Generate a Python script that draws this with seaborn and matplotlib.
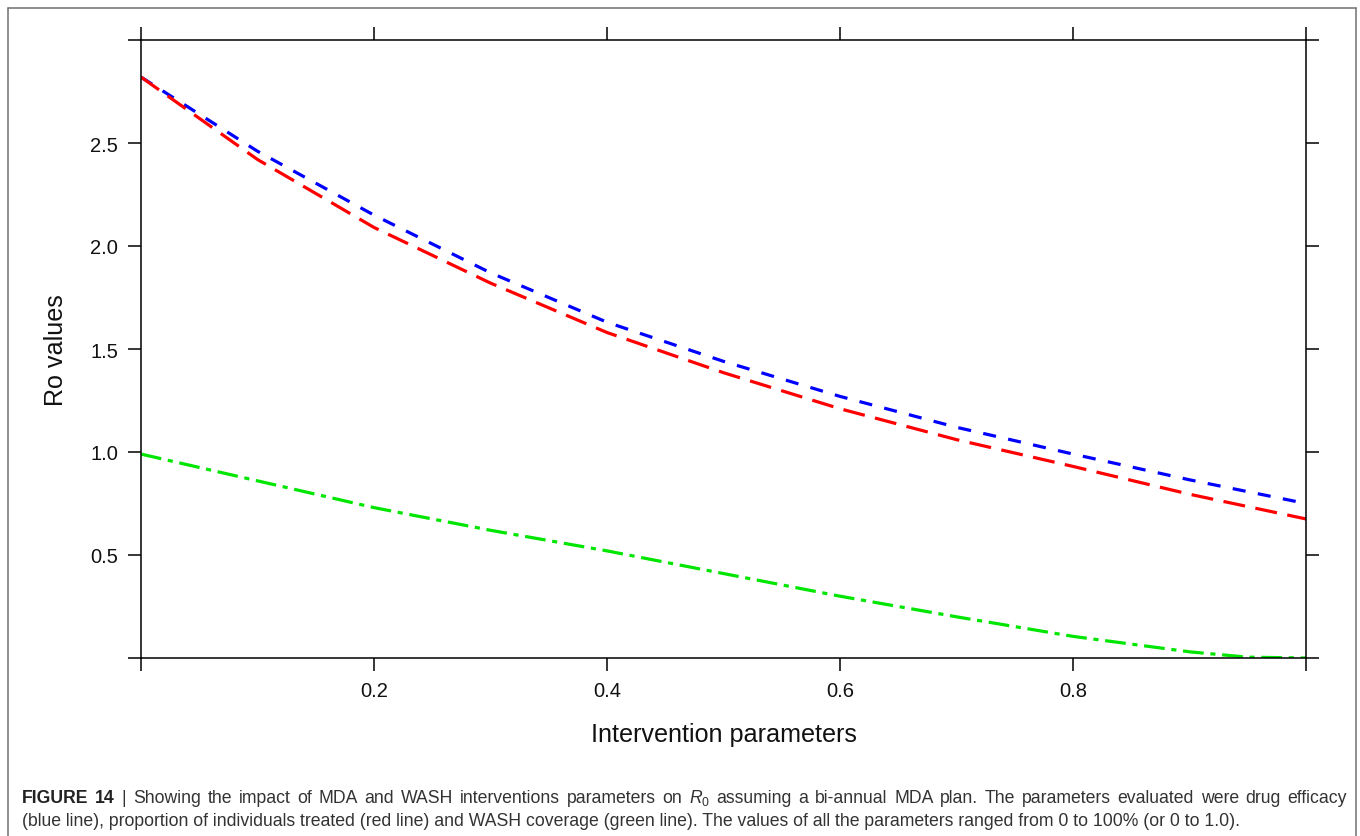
import matplotlib
matplotlib.use("Agg")
import matplotlib.pyplot as plt
import seaborn as sns
import pandas as pd
from matplotlib.lines import Line2D

# ---- data ----
x_vals = [0.0, 0.1, 0.2, 0.3, 0.4, 0.5, 0.6, 0.7, 0.8, 0.9, 1.0]
efficacy_r0 = [2.82, 2.46, 2.15, 1.87, 1.63, 1.44, 1.27, 1.12, 0.99, 0.865, 0.75]
treated_r0 = [2.82, 2.42, 2.09, 1.82, 1.58, 1.385, 1.21, 1.06, 0.93, 0.795, 0.675]
wash_x = [0.0, 0.1, 0.2, 0.3, 0.4, 0.5, 0.6, 0.7, 0.8, 0.9, 0.95, 1.0]
wash_r0 = [0.99, 0.86, 0.73, 0.62, 0.52, 0.41, 0.30, 0.20, 0.105, 0.03, 0.004, 0.0]

x_ticks = [0.0, 0.2, 0.4, 0.6, 0.8, 1.0]
x_ticklabels = ["", "0.2", "0.4", "0.6", "0.8", ""]
y_ticks = [0.0, 0.5, 1.0, 1.5, 2.0, 2.5, 3.0]
y_ticklabels = ["", "0.5", "1.0", "1.5", "2.0", "2.5", ""]

series_names = ["efficacy", "treated", "wash"]
palette = {"efficacy": "#0000FF", "treated": "#FF0000", "wash": "#00E600"}
dashes = {"efficacy": (4.1, 3.9), "treated": (6.9, 3.3), "wash": (6.5, 2.1, 1.6, 2.1)}

caption_line1 = ("FIGURE 14 | Showing the impact of MDA and WASH interventions parameters on "
                 "$R_0$ assuming a bi-annual MDA plan. The parameters evaluated were drug efficacy")
caption_line2 = ("(blue line), proportion of individuals treated (red line) and WASH coverage "
                 "(green line). The values of all the parameters ranged from 0 to 100% (or 0 to 1.0).")

df = pd.concat([
    pd.DataFrame({"x": x_vals, "r0": efficacy_r0, "series": "efficacy"}),
    pd.DataFrame({"x": x_vals, "r0": treated_r0, "series": "treated"}),
    pd.DataFrame({"x": wash_x, "r0": wash_r0, "series": "wash"}),
], ignore_index=True)

sns.set_style("white")
plt.rcParams["font.family"] = ["Liberation Sans", "DejaVu Sans"]
plt.rcParams["mathtext.fontset"] = "custom"
plt.rcParams["mathtext.rm"] = "Liberation Sans"
plt.rcParams["mathtext.it"] = "Liberation Sans:italic"
plt.rcParams["mathtext.bf"] = "Liberation Sans:bold"

W, H = 1360, 837
fig = plt.figure(figsize=(W / 100, H / 100), dpi=100)
fig.patch.set_facecolor("white")
ax = fig.add_axes([141 / W, 1 - 659 / H, (1306 - 141) / W, (659 - 41) / H])

sns.lineplot(data=df, x="x", y="r0", hue="series", style="series",
             hue_order=series_names, style_order=series_names,
             palette=palette, dashes=dashes, linewidth=2.3,
             estimator=None, sort=False, legend=False, ax=ax)

ax.set_xlim(0, 1)
ax.set_ylim(0, 3)
ax.set_xticks(x_ticks)
ax.set_xticklabels(x_ticklabels)
ax.set_yticks(y_ticks)
ax.set_yticklabels(y_ticklabels)
ax.tick_params(axis="both", direction="out", length=9.4, width=1.1,
               colors="black", labelcolor="#111111", labelsize=14.5, pad=7,
               top=True, right=True, bottom=True, left=True,
               labeltop=False, labelright=False)
for sp in ax.spines.values():
    sp.set_visible(True)
    sp.set_linewidth(1.1)
    sp.set_color("black")

ax.set_xlabel("Intervention parameters", fontsize=18.1, color="#111111")
ax.set_ylabel("Ro values", fontsize=18.1, color="#111111")
ax.xaxis.set_label_coords(0.5, -0.103)
ax.yaxis.set_label_coords(-0.0627, 0.5)

# ---- frame around figure ----
fc = "#707070"
fig.add_artist(Line2D([8 / W, 8 / W], [0, 1 - 8.5 / H], transform=fig.transFigure, color=fc, lw=1.1))
fig.add_artist(Line2D([8 / W, 1355.5 / W], [1 - 8.5 / H, 1 - 8.5 / H], transform=fig.transFigure, color=fc, lw=1.1))
fig.add_artist(Line2D([1355.5 / W, 1355.5 / W], [0, 1 - 8.5 / H], transform=fig.transFigure, color=fc, lw=1.1))

# ---- caption ----
cap_color = "#333333"
cap_size = 12.7
fig.canvas.draw()
renderer = fig.canvas.get_renderer()
x0 = 22 / W
x_right = 1347 / W
y1 = 1 - 803 / H
y2 = 1 - 826 / H

# line 1: justified, first two words bold
words = caption_line1.split(" ")
texts = []
for i, w in enumerate(words):
    bold = i < 2
    t = fig.text(0, y1, w, fontsize=cap_size, fontweight="bold" if bold else "normal",
                 color="#222222" if bold else cap_color, va="baseline", ha="left")
    texts.append(t)
widths = [t.get_window_extent(renderer).width / W for t in texts]
gap = (x_right - x0 - sum(widths)) / (len(words) - 1)
xc = x0
for t, wd in zip(texts, widths):
    t.set_x(xc)
    xc += wd + gap

fig.text(x0, y2, caption_line2, fontsize=cap_size, color=cap_color, va="baseline", ha="left")

fig.savefig("out.png", dpi=100)
